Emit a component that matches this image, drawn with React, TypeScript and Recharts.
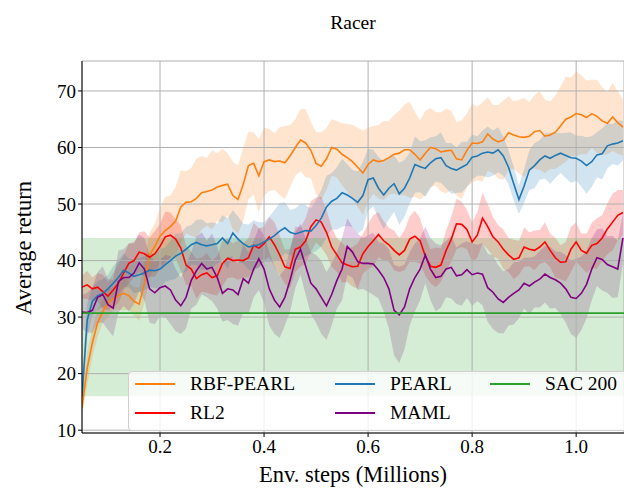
import { ComposedChart, Area, Line, XAxis, YAxis, CartesianGrid, ReferenceArea, ReferenceLine } from 'recharts'

// env steps (millions), one sample every 0.01
const STEPS = Array.from({ length: 105 }, (_, i) => +(0.05 + i * 0.01).toFixed(2))

const RBF_PEARL = [
  14, 21, 25.5, 29, 31, 32.5, 33.3, 33.8, 34.2, 33.8, 32.8, 32.3, 36, 41, 42.5,
  44.3, 45.3, 46, 47, 49.5, 50.3, 50.4, 51, 52, 52.2, 52.5, 53, 53.3, 53.5, 51.5,
  50.8, 53.5, 56.8, 57.2, 55, 57.5, 57.8, 57.5, 57.6, 57.3, 58.5, 60, 61.3, 60.8, 59.5,
  57.2, 56.7, 58, 60, 59.7, 58.8, 58.2, 57.5, 56.5, 55.5, 57, 57.8, 57.5, 57.7, 58.2,
  58.8, 59, 59.6, 59.6, 58.8, 57.8, 59, 60, 59.8, 59.2, 59.4, 59.5, 58, 57.8, 59.5,
  60.8, 60.7, 61, 62.4, 61.5, 61, 61.3, 62.6, 62.2, 61.9, 61.8, 62, 62.8, 63, 62,
  62.2, 62.7, 63.8, 65, 65.4, 66, 65.8, 65.3, 66, 65.5, 64.7, 64.3, 65.4, 64.4, 63.6,
]
const RBF_PEARL_SD = [
  1.5, 3, 2.5, 2.5, 2, 2.5, 2, 2.5, 3, 2.5, 2.5, 3, 3.5, 4, 4,
  5, 6, 5.5, 6, 6.5, 5.5, 6, 7, 6.5, 6, 7, 6, 6.5, 5.5, 6,
  6, 6.5, 6, 5.5, 6.5, 6, 5.5, 5, 6, 6.5, 5.5, 5, 5.5, 6, 5,
  5.5, 6, 5.5, 5, 5, 5.5, 6, 6.5, 7, 7.5, 6.5, 6, 6.5, 7, 6.5,
  7, 7.5, 8, 8.5, 7.5, 7, 7.5, 7, 6.5, 7, 7.5, 7, 6.5, 7, 6.5,
  7, 6.5, 7, 6.5, 6, 6.5, 7, 6.5, 6, 6.5, 7, 6, 6.5, 7, 6.5,
  6, 6.5, 7, 7.5, 7, 7.5, 7, 6.5, 6, 6.5, 6, 5.5, 6, 5.5, 5,
]

const PEARL = [
  16, 29.5, 32.8, 33.8, 34.2, 35, 36, 37, 38.3, 37.8, 37.2, 37.5, 37.8, 38.3, 38.2,
  38.5, 39.3, 40, 40.8, 41.3, 42, 42.8, 43.2, 42.8, 42.6, 42.8, 43, 44, 43, 44.9,
  43.8, 43, 42.4, 42.6, 42.8, 43.3, 43.8, 44.4, 45.2, 45.8, 45, 44.7, 45, 45.3, 45.2,
  46.2, 47.5, 49.5, 50.5, 51, 52, 51.6, 51, 50.3, 51.5, 54.3, 54.6, 52.8, 51.6, 52.8,
  53.6, 51.8, 52.8, 54.6, 57, 56.6, 56.3, 57.3, 58, 58.2, 56.8, 56.3, 56, 56.5, 57,
  58.3, 58.5, 59, 59.2, 59, 59.6, 58.5, 56.5, 53.6, 50.8, 53.2, 56, 56.8, 57.8, 58.5,
  58.1, 58.6, 59, 58.6, 58.2, 58.1, 57.6, 56.8, 57.5, 58.7, 58.9, 60.3, 60.6, 60.8, 61.2,
]
const PEARL_SD = [
  3, 3, 2.5, 2.5, 2.5, 2.5, 3, 3, 3, 2.5, 3, 3, 3, 3, 3,
  3.5, 3, 3.5, 4, 3.5, 4, 3.5, 4, 4.5, 4, 4, 3.5, 4, 4.5, 4,
  4, 3.5, 4, 4.5, 4, 3.5, 4, 4.5, 5, 4.5, 4, 4.5, 5, 4.5, 4,
  4.5, 5, 5.5, 5, 5.5, 6, 5.5, 5, 5.5, 6, 5.5, 5, 5.5, 6, 5.5,
  5, 5.5, 5, 4.5, 5, 4.5, 5, 4.5, 4, 4.5, 4, 4.5, 4, 4.5, 4,
  4, 3.5, 4, 4.5, 4, 4, 3.5, 3, 3, 2.5, 3, 3.5, 4, 3.5, 4,
  4.5, 4, 3.5, 4, 4.5, 4, 4.5, 5, 4.5, 4, 4.5, 4, 3.5, 4, 3.5,
]

const RL2 = [
  35.3, 35.7, 35, 35.3, 34.5, 33.7, 34.8, 36, 37.8, 39.5, 40, 41.5, 41.2, 40.6, 41.2,
  42.5, 44.2, 44.5, 43.8, 42.2, 39.2, 38.5, 36.8, 37.5, 37.8, 37, 37.3, 39.5, 40.4, 40,
  40.1, 40, 40.5, 42.7, 42.2, 43, 44.2, 42.8, 41, 38.9, 38.6, 42, 42.4, 43.5, 46,
  47.2, 46.8, 45, 42.4, 41, 39.6, 39.2, 38.9, 39, 41.2, 42.5, 43.5, 44.6, 43.5, 42.8,
  41.8, 41, 41.8, 43.8, 44.3, 43.5, 40.8, 39, 38.8, 39.2, 41.8, 43.8, 46.5, 46.4, 45.5,
  43.3, 44.5, 47.5, 46, 44.2, 43.3, 42, 41, 40.2, 40.5, 42.4, 42, 41.8, 42.4, 43.3,
  41.8, 40.5, 39.7, 39.8, 42, 43.3, 41.8, 41.3, 42.7, 43, 44, 45.6, 46.8, 48, 48.5,
]
const RL2_SD = [
  2, 2.5, 2, 2.5, 3, 2.5, 3, 3.5, 3, 3.5, 3, 3.5, 4, 3.5, 4,
  4, 4.5, 4, 3.5, 4, 3.5, 3, 3.5, 3, 3.5, 3, 3.5, 4, 3.5, 3,
  3.5, 3, 3.5, 4, 3.5, 3, 3.5, 4, 3.5, 3, 3.5, 4, 3.5, 4, 4.5,
  4, 4.5, 4, 3.5, 3, 3.5, 3, 3.5, 4, 3.5, 4, 4.5, 4, 3.5, 3,
  3.5, 3, 3.5, 4, 4.5, 4, 3.5, 3, 3.5, 3, 3.5, 4, 4.5, 4, 3.5,
  3.5, 4, 4.5, 4, 3.5, 3, 3.5, 3, 3.5, 3, 3.5, 3, 3.5, 3, 3.5,
  3, 3.5, 3, 3.5, 4, 3.5, 3, 3.5, 4, 4.5, 4, 4.5, 5, 4.5, 4,
]

const MAML = [
  30.9, 30.8, 31.2, 33.5, 34, 32.2, 31.6, 36.3, 37, 37, 37.8, 39.6, 38.5, 35, 34.3,
  35.2, 35.5, 34.8, 33, 32, 33.5, 36.5, 38.2, 39.5, 38.5, 38.8, 37, 34.2, 35, 34.8,
  34, 36.8, 36, 38.5, 40.3, 38.5, 35, 33, 31.8, 33.5, 36.5, 40.1, 42, 39, 36,
  35, 33.5, 32, 34, 36.5, 38.5, 42.5, 41.5, 39.8, 39.5, 39.5, 39.4, 38.3, 37, 35,
  31.2, 30.4, 31.8, 35, 37, 38.5, 41, 38.5, 37, 37.2, 38.5, 38.8, 37.3, 37.5, 38.4,
  37.5, 37.8, 37.6, 35.2, 34.4, 33.2, 32.6, 33.5, 34.2, 34.8, 36, 35.5, 36.2, 36.7, 37.6,
  37, 36.6, 36, 35, 33.5, 33.3, 34.2, 35.8, 38.5, 40.5, 40.2, 39.3, 38.9, 38.5, 44,
]
const MAML_SD = [
  3, 3.5, 4, 4.5, 5, 4.5, 5, 5.5, 5, 6, 5.5, 5, 5.5, 6, 5.5,
  5, 5.5, 6, 5.5, 5, 5.5, 5, 6, 5.5, 5, 6, 5.5, 5, 5.5, 6,
  5.5, 6, 5.5, 5, 5.5, 6, 6.5, 6, 5.5, 5, 5.5, 5, 4.5, 5, 5.5,
  6, 6.5, 6, 5.5, 5, 5.5, 5, 4.5, 5, 4.5, 5, 5.5, 5, 6, 7,
  8, 8.5, 7.5, 6.5, 6, 5.5, 5, 5.5, 6, 5.5, 5, 5.5, 5, 5.5, 5,
  5.5, 5, 5.5, 6, 6.5, 6, 5.5, 5, 5.5, 5, 4.5, 5, 4.5, 5, 5,
  5.5, 5, 5.5, 6, 6.5, 7, 6.5, 6, 5.5, 5, 5.5, 5, 5.5, 5, 4.5,
]

// SAC 200 baseline: mean and spread
const SAC_MEAN = 30.7
const SAC_LOW = 16
const SAC_HIGH = 44

const X_TICKS = [0.2, 0.4, 0.6, 0.8, 1.0]
const Y_TICKS = [10, 20, 30, 40, 50, 60, 70]

const SERIES = [
  { key: 'rbf', name: 'RBF-PEARL', color: '#ff7f0e', mean: RBF_PEARL, sd: RBF_PEARL_SD },
  { key: 'rl2', name: 'RL2', color: '#ff0000', mean: RL2, sd: RL2_SD },
  { key: 'pearl', name: 'PEARL', color: '#1f77b4', mean: PEARL, sd: PEARL_SD },
  { key: 'maml', name: 'MAML', color: '#800080', mean: MAML, sd: MAML_SD },
]
const SAC_COLOR = '#2ca02c'

const data = STEPS.map((x, i) => {
  const row: Record<string, any> = { x }
  SERIES.forEach((s) => {
    row[s.key] = s.mean[i]
    row[s.key + 'Band'] = [s.mean[i] - s.sd[i], s.mean[i] + s.sd[i]]
  })
  return row
})

const FONT = "'Liberation Serif', 'Times New Roman', serif"
const tick = { fontSize: 19, fill: '#000', fontFamily: FONT, style: { fontFamily: FONT } }

const legendItems = [
  [{ name: 'RBF-PEARL', color: '#ff7f0e' }, { name: 'RL2', color: '#ff0000' }],
  [{ name: 'PEARL', color: '#1f77b4' }, { name: 'MAML', color: '#800080' }],
  [{ name: 'SAC 200', color: SAC_COLOR }],
]
const legendCols = [135, 335, 490]

export default function App() {
  return (
    <div style={{ position: 'absolute', left: 0, top: 0, width: 624, height: 490, overflow: 'hidden', background: '#fff', fontFamily: FONT }}>
      <ComposedChart
        width={624}
        height={490}
        data={data}
        margin={{ top: 61, right: 0, bottom: 0, left: 0 }}
        style={{ fontFamily: FONT }}
      >
        {SERIES.map((s) => (
          <Area
            key={s.key + 'Band'}
            dataKey={s.key + 'Band'}
            stroke="none"
            fill={s.color}
            fillOpacity={0.2}
            isAnimationActive={false}
            activeDot={false}
            dot={false}
          />
        ))}
        <ReferenceArea y1={SAC_LOW} y2={SAC_HIGH} fill={SAC_COLOR} fillOpacity={0.2} stroke="none" />
        <CartesianGrid stroke="#b0b0b0" strokeWidth={1} zIndex={150} />
        <XAxis
          dataKey="x"
          type="number"
          domain={[0.05, 1.092]}
          allowDataOverflow
          ticks={X_TICKS}
          tickFormatter={(v: number) => v.toFixed(1)}
          tick={tick}
          tickSize={4}
          tickMargin={3}
          height={57}
          axisLine={{ stroke: '#000' }}
          tickLine={{ stroke: '#000' }}
        />
        <XAxis xAxisId="top" orientation="top" dataKey="x" type="number" domain={[0.05, 1.092]} tick={false} tickLine={false} height={0} axisLine={{ stroke: '#000' }} />
        <YAxis
          type="number"
          domain={[9.5, 75.3]}
          allowDataOverflow
          ticks={Y_TICKS}
          tick={tick}
          tickSize={4}
          tickMargin={2}
          width={82}
          axisLine={{ stroke: '#000' }}
          tickLine={{ stroke: '#000' }}
        />
        {SERIES.map((s) => (
          <Line
            key={s.key}
            dataKey={s.key}
            stroke={s.color}
            strokeWidth={1.6}
            dot={false}
            activeDot={false}
            isAnimationActive={false}
          />
        ))}
        <ReferenceLine y={SAC_MEAN} stroke={SAC_COLOR} strokeWidth={1.6} />
      </ComposedChart>

      <div style={{ position: 'absolute', left: 0, width: 706, top: 12.7, textAlign: 'center', fontSize: 19.5, lineHeight: 1 }}>Racer</div>
      <div style={{ position: 'absolute', left: 0, width: 706, top: 464, textAlign: 'center', fontSize: 22.5, lineHeight: 1 }}>
        Env. steps (Millions)
      </div>
      <div
        style={{
          position: 'absolute',
          left: 23.5,
          top: 248,
          fontSize: 22.5,
          lineHeight: 1,
          whiteSpace: 'nowrap',
          transform: 'translate(-50%, -50%) rotate(-90deg)',
        }}
      >
        Average return
      </div>

      <div
        style={{
          position: 'absolute',
          left: 128,
          top: 371,
          width: 520,
          height: 60,
          background: 'rgba(255,255,255,0.8)',
          border: '1px solid #d0d0d0',
          borderRadius: 4,
          boxSizing: 'border-box',
        }}
      />
      {legendItems.map((col, ci) =>
        col.map((it, ri) => (
          <div
            key={it.name}
            style={{ position: 'absolute', left: legendCols[ci], top: 384 + ri * 29 - 12, height: 24, display: 'flex', alignItems: 'center', fontSize: 19.5 }}
          >
            <div style={{ width: 40, height: 2, background: it.color, marginRight: 15 }} />
            <span>{it.name}</span>
          </div>
        ))
      )}
    </div>
  )
}
